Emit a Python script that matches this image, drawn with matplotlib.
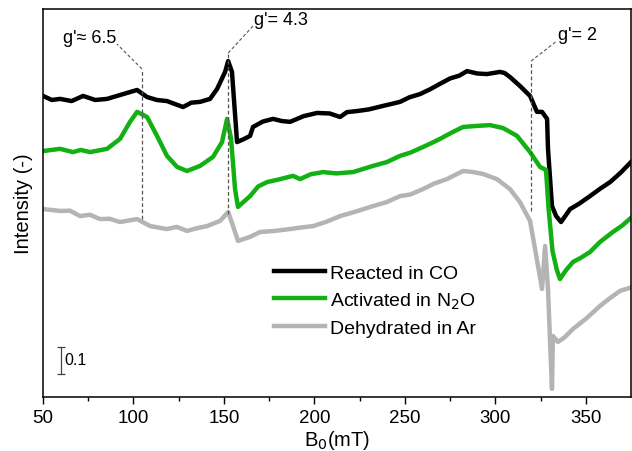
import numpy as np
import matplotlib
matplotlib.use('Agg')
import matplotlib.pyplot as plt

plt.rcParams['font.family'] = ['Liberation Sans', 'DejaVu Sans']

# B0 (mT) and intensity (a.u., offset)
b_co = [50.2, 55.0, 59.6, 66.0, 72.3, 79.0, 85.5, 91.0, 96.5, 102.1, 107.6, 113.0, 118.6, 123.0, 127.5, 132.0,
        136.9, 142.4, 146.3, 150.7, 152.4, 154.5, 157.3, 161.0, 164.5, 166.1, 171.5, 177.2, 182.0, 186.6,
        194.0, 201.5, 208.5, 214.2, 218.0, 223.6, 230.0, 237.9, 247.3, 252.5, 258.4, 264.0, 269.4, 275.0,
        280.0, 284.3, 290.0, 295.3, 302.5, 305.0, 308.0, 313.5, 319.1, 322.9, 325.7, 328.5, 329.0, 331.2,
        333.5, 336.2, 341.2, 346.0, 352.2, 357.5, 363.3, 369.0, 375.4]
i_co = [1.115, 1.100, 1.104, 1.096, 1.115, 1.100, 1.104, 1.115, 1.126, 1.137, 1.111, 1.100, 1.096, 1.085, 1.074, 1.090,
        1.093, 1.104, 1.141, 1.204, 1.244, 1.204, 0.944, 0.955, 0.967, 1.000, 1.020, 1.030, 1.022, 1.019,
        1.040, 1.052, 1.050, 1.037, 1.055, 1.059, 1.065, 1.078, 1.093, 1.110, 1.122, 1.140, 1.160, 1.180,
        1.190, 1.207, 1.198, 1.196, 1.204, 1.200, 1.185, 1.152, 1.115, 1.056, 1.056, 1.030, 0.919, 0.707,
        0.670, 0.648, 0.696, 0.715, 0.744, 0.770, 0.796, 0.830, 0.874]

b_n2o = [50.2, 59.6, 66.7, 71.0, 76.1, 85.5, 92.7, 98.2, 102.1, 107.6, 113.1, 118.6, 124.2, 129.7, 136.9, 144.0,
         149.0, 151.8, 154.0, 156.2, 157.8, 164.5, 169.0, 173.9, 180.0, 188.2, 192.1, 198.0, 204.8, 212.0,
         221.4, 232.4, 240.0, 247.3, 253.0, 260.0, 264.5, 269.4, 276.0, 282.1, 289.8, 297.0, 304.2, 311.9,
         319.1, 324.6, 327.9, 329.3, 331.5, 333.9, 335.6, 339.0, 342.8, 347.0, 352.2, 357.7, 364.8, 370.0,
         375.4]
i_n2o = [0.911, 0.919, 0.907, 0.915, 0.907, 0.919, 0.956, 1.019, 1.056, 1.037, 0.967, 0.893, 0.852, 0.837, 0.856, 0.889,
         0.944, 1.030, 0.956, 0.770, 0.704, 0.744, 0.780, 0.796, 0.805, 0.819, 0.807, 0.825, 0.833, 0.828,
         0.833, 0.856, 0.870, 0.893, 0.905, 0.926, 0.940, 0.956, 0.980, 1.000, 1.004, 1.007, 0.996, 0.967,
         0.907, 0.852, 0.841, 0.700, 0.540, 0.470, 0.437, 0.470, 0.500, 0.515, 0.537, 0.574, 0.611, 0.635,
         0.667]

b_ar = [50.2, 59.6, 65.0, 70.6, 76.0, 81.6, 87.0, 92.7, 102.1, 109.3, 118.6, 124.0, 129.7, 135.0, 140.8, 147.9,
        152.4, 155.1, 157.8, 164.5, 170.0, 178.0, 186.6, 193.0, 199.4, 207.0, 214.2, 222.0, 232.4, 240.0,
        247.3, 253.0, 260.0, 266.0, 273.2, 282.1, 287.6, 293.1, 300.8, 308.0, 313.5, 319.1, 323.5, 325.7,
        327.4, 329.0, 331.2, 331.7, 334.5, 338.0, 342.8, 350.0, 357.7, 363.0, 368.8, 375.4]
i_ar = [0.696, 0.689, 0.690, 0.670, 0.675, 0.659, 0.660, 0.648, 0.659, 0.633, 0.622, 0.630, 0.615, 0.625, 0.633, 0.652,
        0.685, 0.633, 0.578, 0.593, 0.611, 0.615, 0.622, 0.628, 0.633, 0.650, 0.670, 0.685, 0.707, 0.722,
        0.744, 0.750, 0.770, 0.790, 0.807, 0.837, 0.833, 0.826, 0.807, 0.770, 0.722, 0.652, 0.485, 0.400,
        0.559, 0.400, 0.030, 0.226, 0.204, 0.220, 0.252, 0.290, 0.337, 0.365, 0.393, 0.407]

labels = ['Reacted in CO', 'Activated in N$_2$O', 'Dehydrated in Ar']
colors = ['black', '#12b012', '#b4b4b4']

# g' markers: (B0, top of dashed line, bottom, text x, text y, label)
g_lines = [(104.8, 1.215, 0.659, 91.0, 1.307, "g'\u2248 6.5", 'right'),
           (152.4, 1.274, 0.678, 166.1, 1.374, "g'= 4.3", 'left'),
           (319.6, 1.244, 0.689, 334.0, 1.319, "g'= 2", 'left')]

fig = plt.figure(figsize=(6.32, 4.52), dpi=100)
ax = fig.add_axes([0.0676, 0.1195, 0.9313, 0.8584])

for b, i, c, lab in zip([b_co, b_n2o, b_ar], [i_co, i_n2o, i_ar], colors, labels):
    ax.plot(b, i, color=c, lw=3.2, label=lab, solid_joinstyle='round')

for x, top, bot, tx, ty, txt, ha in g_lines:
    ax.plot([x, x], [bot, top], ls=(0, (3, 2)), color='#555555', lw=0.9)
    ax.plot([x, tx], [top, ty], ls=(0, (3, 2)), color='#555555', lw=0.8)
    ax.text(tx + (0.5 if ha == 'left' else -0.5), ty + 0.025, txt, ha=ha, va='center', fontsize=13)

# scale bar
ax.errorbar([60.1], [0.135], yerr=[0.05], color='#444444', capsize=3, lw=0.9, capthick=0.9)
ax.text(61.8, 0.137, '0.1', va='center', ha='left', fontsize=11.5)

ax.set_xlim(50, 375)
ax.set_ylim(0, 1.437)
ax.set_xticks([50, 100, 150, 200, 250, 300, 350])
ax.set_xticks([75, 125, 175, 225, 275, 325], minor=True)
ax.set_yticks([])
ax.tick_params(axis='x', which='major', direction='out', length=5, width=1, labelsize=13.5, pad=4)
ax.tick_params(axis='x', which='minor', direction='out', length=3, width=1)
for s in ax.spines.values():
    s.set_linewidth(1.1)
ax.set_xlabel('B$_0$(mT)', fontsize=14.5, labelpad=1)
ax.set_ylabel('Intensity (-)', fontsize=14.5, labelpad=7)

ax.legend(loc='upper left', bbox_to_anchor=(0.393, 0.342), frameon=False, fontsize=14,
          handlelength=2.6, handletextpad=0.3, borderpad=0, borderaxespad=0, labelspacing=0.43)

fig.savefig('out.png', dpi=100)
